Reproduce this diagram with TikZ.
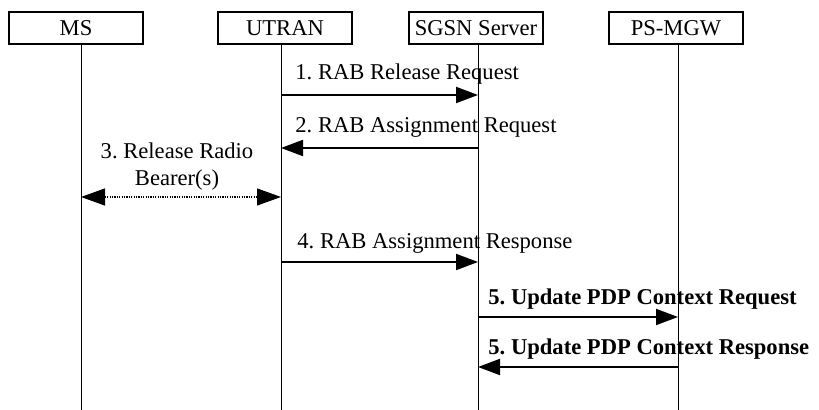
\documentclass[tikz,border=0pt]{standalone}
\usepackage{fontspec}
\setmainfont{Liberation Serif}
\usetikzlibrary{arrows.meta, positioning}
\frenchspacing

\tikzset{
	entity/.style = {draw, line width = 0.6pt, minimum width = 67pt, minimum height = 16pt, inner sep = 0pt},
	lifeline/.style = {line width = 0.5pt},
	msg/.style = {line width = 1pt, -{Triangle[length = 11pt, width = 8pt]}},
	radio/.style = {line width = 0.6pt, dash pattern = on 0.6pt off 0.6pt, {Triangle[length = 12pt, width = 8.5pt]}-{Triangle[length = 12pt, width = 8.5pt]}},
	msglabel/.style = {anchor = base west, inner sep = 0pt},
}

\begin{document}
\begin{tikzpicture}[x = 0.5pt, y = -0.5pt, font = \fontsize{11.3}{13.5}\selectfont]
					\useasboundingbox (0,0) rectangle (819,410);

					% entities
					\begin{scope}
						\node [entity] (msbox) at (76,28) {MS};
						\node [entity] (utranbox) at (285,28) {UTRAN};
						\node [entity] (sgsnbox) at (476,28) {SGSN Server};
						\node [entity] (mgwbox) at (676,28) {PS-MGW};
					\end{scope}

					% lifelines
					\coordinate (ms) at (81,44);
					\coordinate (utran) at (281,44);
					\coordinate (sgsn) at (478,44);
					\coordinate (mgw) at (678,44);
					\coordinate (bottom) at (0,410);
					\begin{scope}[lifeline]
						\draw (ms) -- (ms |- bottom);
						\draw (utran) -- (utran |- bottom);
						\draw (sgsn) -- (sgsn |- bottom);
						\draw (mgw) -- (mgw |- bottom);
					\end{scope}

					% message rows
					\coordinate (m1) at (0,95);
					\coordinate (m2) at (0,148);
					\coordinate (m3) at (0,197);
					\coordinate (m4) at (0,262);
					\coordinate (m5) at (0,317);
					\coordinate (m6) at (0,367);

					\begin{scope}
						\draw [msg] (utran |- m1) -- (sgsn |- m1);
						\path (utran |- m1) ++(14,-15) node [msglabel] (l1) {1. RAB Release Request};

						\draw [msg] (sgsn |- m2) -- (utran |- m2);
						\path (utran |- m2) ++(14,-15) node [msglabel] (l2) {2. RAB Assignment Request};

						\draw [radio] (ms |- m3) -- (utran |- m3)
							node [midway, above = 3pt, align = center, inner sep = 0pt, xshift = -2pt] (l3) {3. Release Radio\\Bearer(s)};

						\draw [msg] (utran |- m4) -- (sgsn |- m4);
						\path (utran |- m4) ++(16,-13) node [msglabel] (l4) {4. RAB Assignment Response};
					\end{scope}

					\begin{scope}[every node/.append style = {font = \fontsize{11.3}{13.5}\selectfont\bfseries}]
						\draw [msg] (sgsn |- m5) -- (mgw |- m5);
						\path (sgsn |- m5) ++(10,-12) node [msglabel] (l5) {5. Update PDP Context Request};

						\draw [msg] (mgw |- m6) -- (sgsn |- m6);
						\path (sgsn |- m6) ++(10,-12) node [msglabel] (l6) {5. Update PDP Context Response};
					\end{scope}
				\end{tikzpicture}
\end{document}
